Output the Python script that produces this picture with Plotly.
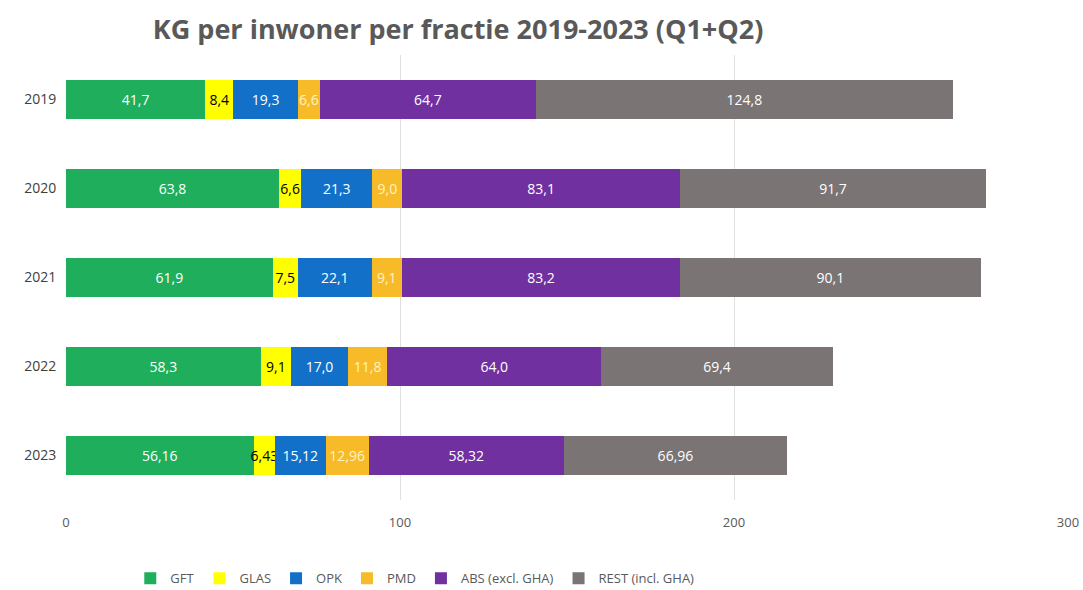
import plotly.graph_objects as go

years = ["2019", "2020", "2021", "2022", "2023"]
series_names = ["GFT", "GLAS", "OPK", "PMD", "ABS (excl. GHA)", "REST (incl. GHA)"]
gft = [41.7, 63.8, 61.9, 58.3, 56.16]
glas = [8.4, 6.6, 7.5, 9.1, 6.43]
opk = [19.3, 21.3, 22.1, 17.0, 15.12]
pmd = [6.6, 9.0, 9.1, 11.8, 12.96]
abs_ = [64.7, 83.1, 83.2, 64.0, 58.32]
rest = [124.8, 91.7, 90.1, 69.4, 66.96]

colors = ["#1fae5b", "#ffff00", "#1270c8", "#f7bb2a", "#7030a0", "#7a7474"]
text_colors = ["white", "black", "white", "#fff3c4", "white", "white"]

fig = go.Figure()
for name, vals, col, tcol in zip(series_names, [gft, glas, opk, pmd, abs_, rest], colors, text_colors):
    fig.add_trace(go.Bar(
        y=years, x=vals, name=name, orientation="h",
        marker=dict(color=col, line=dict(width=0)),
        text=[str(v).replace(".", ",") for v in vals],
        textposition="inside", insidetextanchor="middle", textangle=0,
        constraintext="none",
        textfont=dict(color=tcol, size=14, family="Open Sans"),
    ))

fig.update_layout(
    barmode="stack",
    bargap=0.57,
    width=1083, height=590,
    margin=dict(l=66, r=15, t=55, b=90),
    paper_bgcolor="white", plot_bgcolor="white",
    font=dict(family="Open Sans", color="#595959"),
    title=dict(text="<b>KG per inwoner per fractie 2019-2023 (Q1+Q2)</b>",
               x=0.423, xanchor="center", y=0.95, yanchor="middle",
               font=dict(size=27, color="#595959", family="Open Sans")),
    xaxis=dict(range=[0, 300], tickvals=[0, 100, 200, 300], showgrid=True,
               gridcolor="#e0e0e0", gridwidth=1, zeroline=False, showline=False,
               tickfont=dict(size=13, color="#595959"), ticks="outside",
               ticklen=10, tickcolor="rgba(0,0,0,0)", automargin=False),
    yaxis=dict(autorange="reversed", showgrid=False, showline=False,
               tickfont=dict(size=14, color="#404040"), ticks="outside",
               ticklen=6, tickcolor="rgba(0,0,0,0)", automargin=False),
    legend=dict(orientation="h", x=0.383, xref="container", xanchor="center",
                y=0.02, yref="container", yanchor="middle",
                font=dict(size=13, color="#595959"), traceorder="normal",
                itemwidth=30),
    uniformtext=dict(mode=False),
)

fig.write_html("out.html")
